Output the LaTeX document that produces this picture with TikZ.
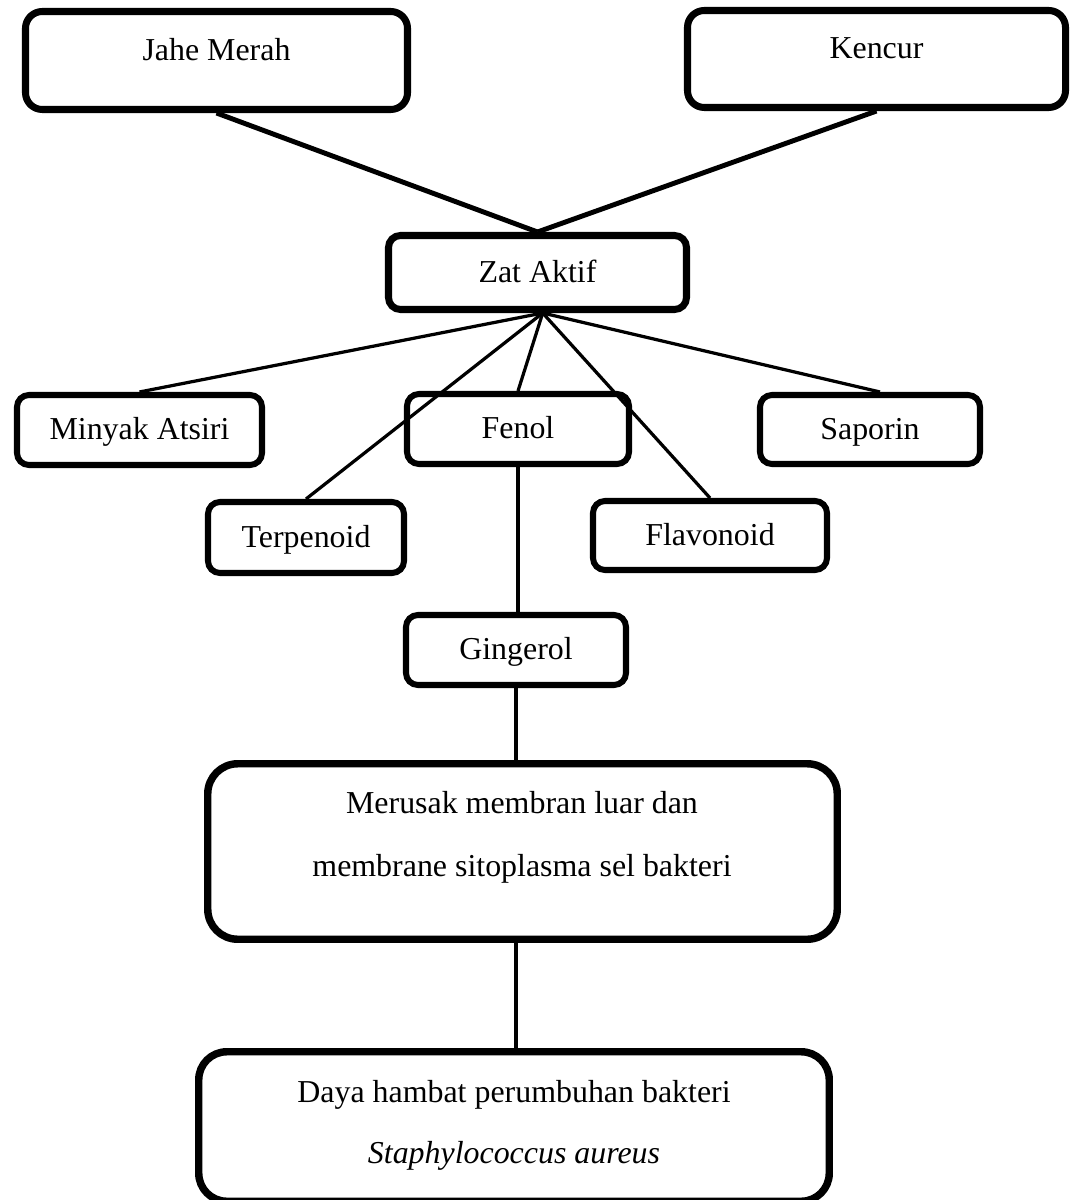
\documentclass[tikz,border=0pt]{standalone}
\usepackage{fontspec}
\setmainfont{Liberation Serif}
\usetikzlibrary{positioning}

\begin{document}
\begin{tikzpicture}[
    every node/.style={font=\fontsize{22.7pt}{27pt}\selectfont},
    box/.style={rectangle, draw, rounded corners=0.3cm, line width=4.3pt, inner sep=0pt, text height=15.9pt, text depth=2.3pt},
    bigbox/.style={rectangle, draw, rounded corners=0.75cm, line width=5.3pt, inner sep=0pt},
    txt/.style={anchor=base, inner sep=0pt},
    link/.style={line width=2.3pt},
  ]
  \useasboundingbox (0,0) rectangle (26.75,-30);

  % Sources
  \node[bigbox, rounded corners=0.42cm, line width=5pt, minimum width=9.55cm, minimum height=2.45cm, text height=15.9pt, text depth=15.9pt] (jahe) at (5.4125,-1.5125) {Jahe Merah};
  \node[bigbox, rounded corners=0.42cm, line width=5pt, minimum width=9.45cm, minimum height=2.425cm, text height=15.9pt, text depth=15.9pt] (kencur) at (21.9125,-1.475) {Kencur};

  \node[box, line width=5pt, minimum width=7.45cm, minimum height=1.85cm] (zat) at (13.4375,-6.8125) {Zat Aktif};

  % Compounds
  \node[box, minimum width=6.125cm, minimum height=1.75cm] (minyak) at (3.4875,-10.75) {Minyak Atsiri};
  \node[box, minimum width=5.55cm, minimum height=1.75cm] (fenol) at (12.95,-10.725) {Fenol};
  \node[box, minimum width=5.5cm, minimum height=1.725cm] (saporin) at (21.75,-10.7375) {Saporin};
  \node[box, minimum width=4.9cm, minimum height=1.775cm] (terpenoid) at (7.65,-13.4375) {Terpenoid};
  \node[box, minimum width=5.85cm, minimum height=1.725cm] (flavonoid) at (17.75,-13.3875) {Flavonoid};
  \node[box, minimum width=5.5cm, minimum height=1.75cm] (gingerol) at (12.9,-16.25) {Gingerol};

  % Effect boxes
  \node[bigbox, minimum width=15.7375cm, minimum height=4.3875cm] (merusak) at (13.0625,-21.2875) {};
  \node[bigbox, rounded corners=0.7cm, minimum width=15.7625cm, minimum height=3.7375cm] (daya) at (12.85,-28.1625) {};

  % Texts of the effect boxes
  \node[txt] (merusak1) at (13.05,-20.325) {Merusak membran luar dan};
  \node[txt] (merusak2) at (13.05,-21.9) {membrane sitoplasma sel bakteri};
  \node[txt] (daya1) at (12.85,-27.55) {Daya hambat perumbuhan bakteri};
  \node[txt] (daya2) at (12.85,-29.075) {\textit{Staphylococcus aureus}};

  % Sources to Zat Aktif
  \draw[link, line width=3.5pt] (jahe.south) -- (zat.north);
  \draw[link, line width=3.5pt] (kencur.south) -- (zat.north);

  % Zat Aktif to compounds
  \coordinate (hub) at ([xshift=1.3mm]zat.south);
  \foreach \n in {minyak, terpenoid, fenol, flavonoid}
    \draw[link] (hub) -- (\n.north);
  \draw[link] (hub) -- ([xshift=2.5mm]saporin.north);

  % Chain down
  \draw[link, line width=2.5pt] (fenol.south) -- (fenol.south |- gingerol.north);
  \draw[link, line width=2.5pt] (gingerol.south) -- (gingerol.south |- merusak.north);
  \draw[link, line width=2.8pt] (gingerol.south |- merusak.south) -- (gingerol.south |- daya.north);

\end{tikzpicture}
\end{document}
